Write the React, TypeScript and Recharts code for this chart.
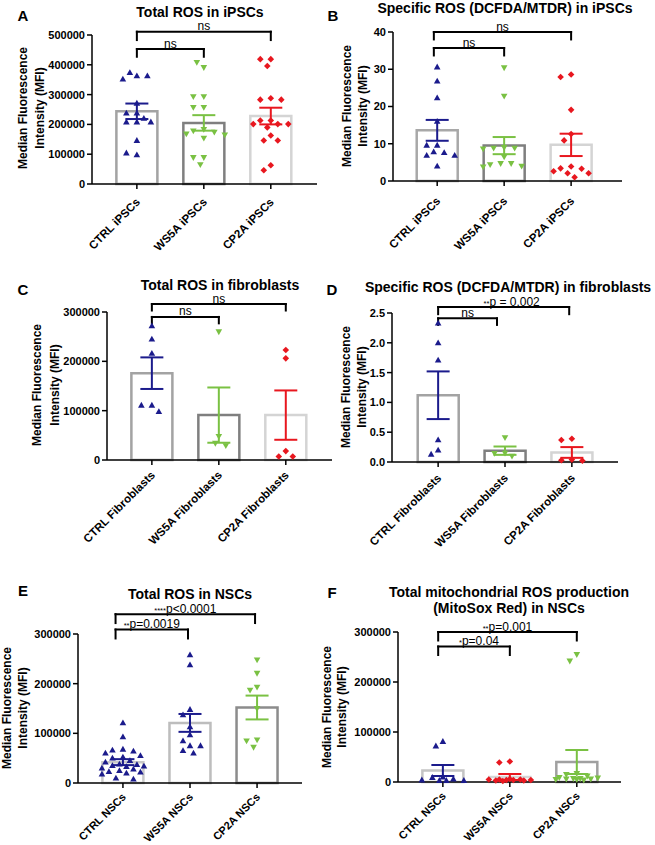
import React from "react";
import { ComposedChart, Bar, Cell, Scatter, ErrorBar, XAxis, YAxis, ReferenceLine } from "recharts";

const BLUE = "#1b1b8c";
const GREEN = "#7ac143";
const RED = "#e8171f";

const ipscNames = ["CTRL iPSCs", "WS5A iPSCs", "CP2A iPSCs"];
const fibroNames = ["CTRL Fibroblasts", "WS5A Fibroblasts", "CP2A Fibroblasts"];
const nscNames = ["CTRL NSCs", "WS5A NSCs", "CP2A NSCs"];

const ticks300k = [0, 100000, 200000, 300000];
const ticks500k = [0, 100000, 200000, 300000, 400000, 500000];
const ticks40 = [0, 10, 20, 30, 40];
const ticks2_5 = [0, 0.5, 1, 1.5, 2, 2.5];

// A - Total ROS in iPSCs
const aCtrl = [363000, 374000, 363000, 352000, 271000, 238000, 238000, 220000, 208000, 208000, 208000, 146000, 98000, 104000];
const aWs5a = [391000, 408000, 293000, 293000, 257000, 257000, 183000, 178000, 174000, 168000, 165000, 154000, 89000, 89000, 65000];
const aCp2a = [419000, 419000, 396000, 288000, 283000, 283000, 213000, 213000, 201000, 201000, 201000, 190000, 163000, 146000, 146000, 63000, 46000];
const aMean = [244000, 205000, 228000];
const aSem = [26000, 26000, 28000];

// B - Specific ROS in iPSCs
const bCtrl = [30.6, 26.8, 22.3, 16.0, 9.6, 9.6, 7.8, 7.6, 6.9, 6.9, 4.0];
const bWs5a = [30.4, 22.8, 9.0, 8.8, 8.8, 8.6, 6.5, 4.7, 4.7, 4.4, 4.0, 3.8];
const bCp2a = [28.6, 27.9, 19.1, 12.6, 10.9, 3.9, 3.4, 3.3, 2.6, 2.1, 2.1, 1.0];
const bMean = [13.6, 9.5, 9.7];
const bSem = [2.8, 2.3, 3.0];

// C - Total ROS in fibroblasts
const cCtrl = [272000, 245000, 216000, 111000, 111000, 98000];
const cWs5a = [260000, 48000, 34000, 29000];
const cCp2a = [223000, 206000, 18000, 7000, 7000];
const cMean = [176000, 91000, 91000];
const cSem = [32000, 56000, 50000];

// D - Specific ROS in fibroblasts
const dCtrl = [2.33, 2.0, 1.71, 0.37, 0.2, 0.13];
const dWs5a = [0.41, 0.15, 0.145, 0.1];
const dCp2a = [0.39, 0.37, 0.04, 0.03, 0.02];
const dMean = [1.12, 0.19, 0.16];
const dSem = [0.4, 0.07, 0.09];

// E - Total ROS in NSCs
const eCtrl = [121000, 93000, 68000, 66000, 64000, 60000, 55000, 52000, 50000, 45000, 42000, 38000, 37000, 35000, 34000, 33000, 30000, 28000, 25000, 23000, 22000, 20000, 18000, 10000, 8000];
const eWs5a = [258000, 238000, 148000, 137000, 113000, 97000, 85000, 75000, 75000, 65000, 60000];
const eCp2a = [248000, 221000, 193000, 187000, 150000, 87000, 85000, 72000];
const eMean = [42000, 121000, 152000];
const eSem = [6000, 18000, 24000];

// F - Total mitochondrial ROS (MitoSox Red) in NSCs
const fCtrl = [81000, 72000, 10000, 9000, 6000, 4000, 3000, 3000, 3000];
const fWs5a = [41000, 39000, 6000, 5000, 5000, 5000, 4000, 4000, 4000, 3000, 3000, 2000];
const fCp2a = [255000, 242000, 17000, 15000, 12000, 9000, 8000, 7000, 7000, 6000, 6000, 5000, 5000, 4000];
const fMean = [23000, 10000, 40000];
const fSem = [11000, 6000, 24000];

type Bracket = { from: number; to: number; top: number; leg: number; stars: string; label: string; dx?: number };

const aBrackets: Bracket[] = [
  { from: 0, to: 2, top: 511000, leg: 483000, stars: "", label: "ns" },
  { from: 0, to: 1, top: 453000, leg: 427000, stars: "", label: "ns" },
];
const bBrackets: Bracket[] = [
  { from: -0.05, to: 2, top: 40, leg: 38, stars: "", label: "ns" },
  { from: -0.05, to: 1, top: 35.7, leg: 33.7, stars: "", label: "ns" },
];
const cBrackets: Bracket[] = [
  { from: 0, to: 2, top: 316000, leg: 303000, stars: "", label: "ns" },
  { from: 0, to: 1, top: 290000, leg: 277000, stars: "", label: "ns" },
];
const dBrackets: Bracket[] = [
  { from: 0, to: 1.96, top: 2.6, leg: 2.48, stars: "**", label: "p = 0.002", dx: 8 },
  { from: 0, to: 0.88, top: 2.41, leg: 2.3, stars: "", label: "ns" },
];
const eBrackets: Bracket[] = [
  { from: -0.11, to: 1.97, top: 340000, leg: 322000, stars: "****", label: "p<0.0001" },
  { from: -0.11, to: 0.97, top: 309000, leg: 291000, stars: "**", label: "p=0.0019" },
];
const fBrackets: Bracket[] = [
  { from: -0.07, to: 2, top: 300000, leg: 283000, stars: "**", label: "p=0.001" },
  { from: -0.07, to: 1, top: 271000, leg: 254000, stars: "*", label: "p=0.04", dx: 5 },
];

type Kind = "up" | "down" | "diamond";

type PanelSpec = {
  left: number;
  top: number;
  width: number;
  height: number;
  yw: number;
  mt: number;
  mr: number;
  xh: number;
  tickDy: number;
  tickFont: number;
  xDomain: [number, number];
  yMax: number;
  yTicks: number[];
  yFmt: (v: number) => string;
  names: string[];
  groups: number[][];
  kinds: Kind[];
  colors: string[];
  strokes: string[];
  means: number[];
  sems: number[];
  brackets: Bracket[];
};

const plain = (v: number) => String(v);
const oneDec = (v: number) => v.toFixed(1);

const panels: PanelSpec[] = [
  {
    left: 0, top: 0, width: 330, height: 270, yw: 92, mt: 35, mr: 13, xh: 86, tickDy: 9, tickFont: 11.5,
    xDomain: [-0.67, 2.69], yMax: 500000, yTicks: ticks500k, yFmt: plain, names: ipscNames,
    groups: [aCtrl, aWs5a, aCp2a], kinds: ["up", "down", "diamond"], colors: [BLUE, GREEN, RED],
    strokes: ["#a3a3a3", "#7f7f7f", "#d4d4d4"], means: aMean, sems: aSem, brackets: aBrackets,
  },
  {
    left: 325, top: 0, width: 330, height: 270, yw: 68, mt: 32, mr: 33, xh: 89, tickDy: 11, tickFont: 11.5,
    xDomain: [-0.66, 2.76], yMax: 40, yTicks: ticks40, yFmt: plain, names: ipscNames,
    groups: [bCtrl, bWs5a, bCp2a], kinds: ["up", "down", "diamond"], colors: [BLUE, GREEN, RED],
    strokes: ["#a8a8a8", "#7f7f7f", "#d4d4d4"], means: bMean, sems: bSem, brackets: bBrackets,
  },
  {
    left: 0, top: 270, width: 340, height: 285, yw: 107, mt: 42, mr: 8, xh: 95, tickDy: 6, tickFont: 11.5,
    xDomain: [-0.67, 2.69], yMax: 300000, yTicks: ticks300k, yFmt: plain, names: fibroNames,
    groups: [cCtrl, cWs5a, cCp2a], kinds: ["up", "down", "diamond"], colors: [BLUE, GREEN, RED],
    strokes: ["#a3a3a3", "#7f7f7f", "#d4d4d4"], means: cMean, sems: cSem, brackets: cBrackets,
  },
  {
    left: 325, top: 270, width: 330, height: 285, yw: 67, mt: 43, mr: 37, xh: 93, tickDy: 7, tickFont: 11.5,
    xDomain: [-0.69, 2.69], yMax: 2.5, yTicks: ticks2_5, yFmt: oneDec, names: fibroNames,
    groups: [dCtrl, dWs5a, dCp2a], kinds: ["up", "down", "diamond"], colors: [BLUE, GREEN, RED],
    strokes: ["#a3a3a3", "#7f7f7f", "#d4d4d4"], means: dMean, sems: dSem, brackets: dBrackets,
  },
  {
    left: 0, top: 555, width: 330, height: 290, yw: 78, mt: 79, mr: 28, xh: 62, tickDy: 5, tickFont: 11,
    xDomain: [-0.67, 2.67], yMax: 300000, yTicks: ticks300k, yFmt: plain, names: nscNames,
    groups: [eCtrl, eWs5a, eCp2a], kinds: ["up", "up", "down"], colors: [BLUE, BLUE, GREEN],
    strokes: ["#c9c9c9", "#bdbdbd", "#8c8c8c"], means: eMean, sems: eSem, brackets: eBrackets,
  },
  {
    left: 325, top: 555, width: 330, height: 290, yw: 73, mt: 77, mr: 34, xh: 63, tickDy: 5, tickFont: 11,
    xDomain: [-0.67, 2.66], yMax: 300000, yTicks: ticks300k, yFmt: plain, names: nscNames,
    groups: [fCtrl, fWs5a, fCp2a], kinds: ["up", "diamond", "down"], colors: [BLUE, RED, GREEN],
    strokes: ["#c4c4c4", "#d6d6d6", "#a0a0a0"], means: fMean, sems: fSem, brackets: fBrackets,
  },
];

// pixel offsets so that overlapping dots spread sideways (simple beeswarm, capped width)
function swarm(values: number[], yMax: number, plotH: number) {
  const d = 7.5;
  const step = 3.5;
  const maxOff = 21;
  const cands = [0];
  for (let k = 1; k * step <= maxOff; k++) cands.push(-k * step, k * step);
  const placed: { x: number; y: number }[] = [];
  return values.map((v) => {
    const y = (v / yMax) * plotH;
    let best = 0;
    let bestDist = -1;
    for (const off of cands) {
      const minDist = placed.reduce((m, p) => Math.min(m, Math.hypot(p.x - off, p.y - y)), Infinity);
      if (minDist >= d) {
        best = off;
        bestDist = minDist;
        break;
      }
      if (minDist > bestDist) {
        bestDist = minDist;
        best = off;
      }
    }
    placed.push({ x: best, y });
    return best;
  });
}

function Marker({ kind, cx, cy, color }: { kind: Kind; cx: number; cy: number; color: string }) {
  if (kind === "up")
    return <polygon points={`${cx},${cy - 3.4} ${cx - 3.3},${cy + 2.4} ${cx + 3.3},${cy + 2.4}`} fill={color} />;
  if (kind === "down")
    return <polygon points={`${cx},${cy + 3.4} ${cx - 3.3},${cy - 2.4} ${cx + 3.3},${cy - 2.4}`} fill={color} />;
  return <polygon points={`${cx},${cy - 3.3} ${cx + 3.3},${cy} ${cx},${cy + 3.3} ${cx - 3.3},${cy}`} fill={color} />;
}

function CatTick(props: any) {
  const { x, y, payload, names, shift, size } = props;
  const ax = x + 1;
  const ay = y + shift;
  return (
    <text x={ax} y={ay} transform={`rotate(-45 ${ax} ${ay})`} textAnchor="end" dy="0.35em" fontSize={size} fontWeight="bold" fill="#000">
      {names[payload.value]}
    </text>
  );
}

function BracketText(props: any) {
  const { viewBox, stars, text, shift } = props;
  if (!viewBox) return null;
  const cx = viewBox.x + viewBox.width / 2 + (shift || 0);
  return (
    <text x={cx} y={viewBox.y - 1.5} textAnchor="middle" fontSize={12} fill="#000">
      {stars ? <tspan fontSize={7.5}>{stars}</tspan> : null}
      {text}
    </text>
  );
}

function Panel({ spec }: { spec: PanelSpec }) {
  const plotH = spec.height - spec.mt - spec.xh;
  const barRows = spec.means.map((m, i) => ({ x: i, mean: m, sem: spec.sems[i] }));
  const lineProps = { stroke: "#000", strokeWidth: 2, ifOverflow: "visible" as const, strokeLinecap: "square" as const };
  return (
    <div style={{ position: "absolute", left: spec.left, top: spec.top }}>
      <ComposedChart width={spec.width} height={spec.height} data={barRows} margin={{ top: spec.mt, right: spec.mr, bottom: 0, left: 0 }}>
        <XAxis
          type="number"
          dataKey="x"
          domain={spec.xDomain}
          ticks={[0, 1, 2]}
          interval={0}
          height={spec.xh}
          tickSize={5}
          tick={<CatTick names={spec.names} shift={spec.tickDy} size={spec.tickFont} />}
          tickLine={{ stroke: "#000", strokeWidth: 1.5 }}
          axisLine={{ stroke: "#000", strokeWidth: 1.5 }}
        />
        <YAxis
          type="number"
          domain={[0, spec.yMax]}
          ticks={spec.yTicks}
          interval={0}
          width={spec.yw}
          tickSize={5}
          tickFormatter={spec.yFmt}
          tick={{ fontSize: 11, fontWeight: 700, fill: "#000" }}
          tickLine={{ stroke: "#000", strokeWidth: 1.5 }}
          axisLine={{ stroke: "#000", strokeWidth: 1.5 }}
        />
        <Bar dataKey="mean" barSize={41} fill="#fff" strokeWidth={2.5} isAnimationActive={false}>
          {spec.strokes.map((c, i) => (
            <Cell key={i} stroke={c} />
          ))}
        </Bar>
        {barRows.map((row, gi) => (
          <Scatter key={`sem${gi}`} data={[row]} dataKey="mean" shape={() => <g />} isAnimationActive={false}>
            <ErrorBar dataKey="sem" direction="y" width={11.5} stroke={spec.colors[gi]} strokeWidth={2} isAnimationActive={false} />
          </Scatter>
        ))}
        {spec.groups.map((vals, gi) => {
          const dx = swarm(vals, spec.yMax, plotH);
          const pts = vals.map((v, k) => ({ x: gi, y: v, dx: dx[k] }));
          return (
            <Scatter
              key={`pts${gi}`}
              data={pts}
              dataKey="y"
              isAnimationActive={false}
              shape={(p: any) => <Marker kind={spec.kinds[gi]} cx={p.cx + p.payload.dx} cy={p.cy} color={spec.colors[gi]} />}
            />
          );
        })}
        {spec.brackets.map((b, i) => (
          <ReferenceLine
            key={`h${i}`}
            segment={[{ x: b.from, y: b.top }, { x: b.to, y: b.top }]}
            {...lineProps}
            label={<BracketText stars={b.stars} text={b.label} shift={b.dx} />}
          />
        ))}
        {spec.brackets.map((b, i) => (
          <ReferenceLine key={`l${i}`} segment={[{ x: b.from, y: b.top }, { x: b.from, y: b.leg }]} {...lineProps} />
        ))}
        {spec.brackets.map((b, i) => (
          <ReferenceLine key={`r${i}`} segment={[{ x: b.to, y: b.top }, { x: b.to, y: b.leg }]} {...lineProps} />
        ))}
      </ComposedChart>
    </div>
  );
}

function Txt({ x, y, size, children, rotate }: { x: number; y: number; size: number; children: React.ReactNode; rotate?: boolean }) {
  return (
    <div
      style={{
        position: "absolute",
        left: x,
        top: y,
        transform: `translate(-50%, -50%)${rotate ? " rotate(-90deg)" : ""}`,
        fontSize: size,
        fontWeight: "bold",
        lineHeight: 1,
        whiteSpace: "nowrap",
        color: "#000",
      }}
    >
      {children}
    </div>
  );
}

const yLabel1 = "Median Fluorescence";
const yLabel2 = "Intensity (MFI)";

export default function App() {
  return (
    <div
      style={{
        position: "absolute",
        left: 0,
        top: 0,
        width: 655,
        height: 845,
        background: "#fff",
        overflow: "hidden",
        fontFamily: "'Liberation Sans', Arial, sans-serif",
      }}
    >
      {panels.map((p, i) => (
        <Panel key={i} spec={p} />
      ))}

      <Txt x={23} y={15} size={15}>A</Txt>
      <Txt x={333} y={15} size={15}>B</Txt>
      <Txt x={23} y={289} size={15}>C</Txt>
      <Txt x={332} y={289} size={15}>D</Txt>
      <Txt x={23} y={590} size={15}>E</Txt>
      <Txt x={332} y={592} size={15}>F</Txt>

      <Txt x={200} y={12} size={14}>Total ROS in iPSCs</Txt>
      <Txt x={505} y={8} size={14}>Specific ROS (DCFDA/MTDR) in iPSCs</Txt>
      <Txt x={220} y={285} size={14}>Total ROS in fibroblasts</Txt>
      <Txt x={508} y={287} size={14}>Specific ROS (DCFDA/MTDR) in fibroblasts</Txt>
      <Txt x={190} y={594} size={14}>Total ROS in NSCs</Txt>
      <Txt x={509} y={592} size={14}>Total mitochondrial ROS production</Txt>
      <Txt x={509} y={608} size={14}>(MitoSox Red) in NSCs</Txt>

      <Txt x={23} y={108} size={12} rotate>{yLabel1}</Txt>
      <Txt x={40} y={108} size={12} rotate>{yLabel2}</Txt>
      <Txt x={347} y={106} size={12} rotate>{yLabel1}</Txt>
      <Txt x={363} y={106} size={12} rotate>{yLabel2}</Txt>
      <Txt x={37} y={385} size={12} rotate>{yLabel1}</Txt>
      <Txt x={55} y={385} size={12} rotate>{yLabel2}</Txt>
      <Txt x={346} y={387} size={12} rotate>{yLabel1}</Txt>
      <Txt x={362} y={387} size={12} rotate>{yLabel2}</Txt>
      <Txt x={7} y={708} size={12} rotate>{yLabel1}</Txt>
      <Txt x={23} y={708} size={12} rotate>{yLabel2}</Txt>
      <Txt x={327} y={707} size={12} rotate>{yLabel1}</Txt>
      <Txt x={342} y={707} size={12} rotate>{yLabel2}</Txt>
    </div>
  );
}
